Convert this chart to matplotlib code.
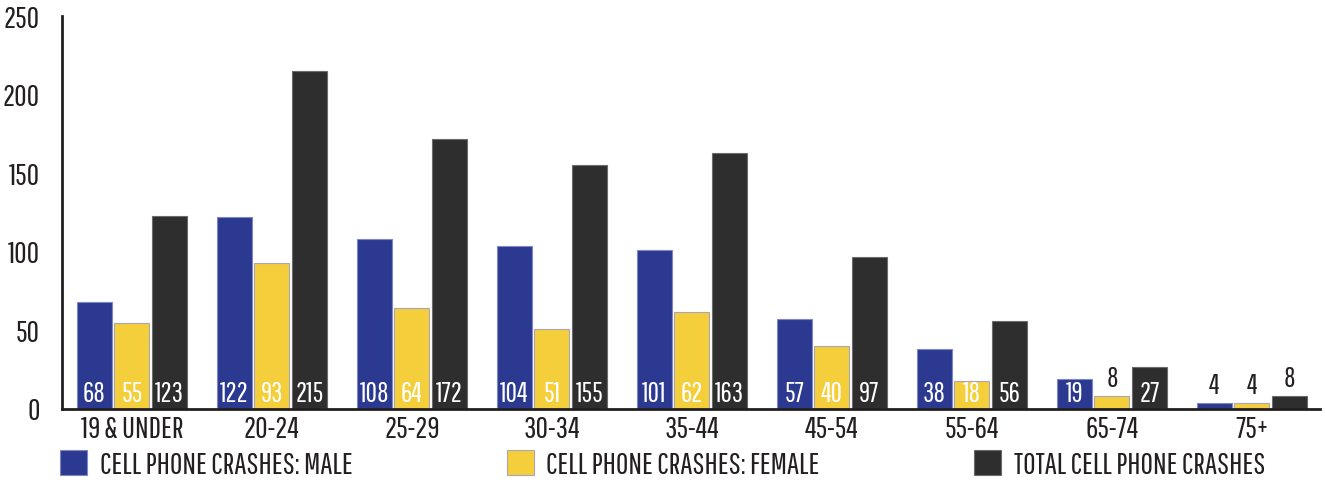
import matplotlib
matplotlib.use("Agg")
import matplotlib.pyplot as plt
from matplotlib.patches import Patch
import numpy as np

categories = ["19 & UNDER", "20-24", "25-29", "30-34", "35-44", "45-54", "55-64", "65-74", "75+"]
male = [68, 122, 108, 104, 101, 57, 38, 19, 4]
female = [55, 93, 64, 51, 62, 40, 18, 8, 4]
total = [123, 215, 172, 155, 163, 97, 56, 27, 8]
series_names = ["CELL PHONE CRASHES: MALE", "CELL PHONE CRASHES: FEMALE", "TOTAL CELL PHONE CRASHES"]
yticks = [0, 50, 100, 150, 200, 250]

colors = ["#2B3990", "#F5CF3B", "#2D2E2D"]
edges = ["#7F86C2", "#A9A4B8", "#6B6B6B"]
text_dark = "#231F20"

plt.rcParams['font.family'] = ['Pathway Gothic One', 'Barlow Condensed', 'DejaVu Sans']

fig = plt.figure(figsize=(13.25, 4.82), dpi=100)
ax = fig.add_axes([62/1325, 73/482, (1320-62)/1325, (409-16)/482])

x = np.arange(len(categories))
w = 0.25
pitch = 0.268
data = [male, female, total]
for i, (vals, c, e) in enumerate(zip(data, colors, edges)):
    xs = x + (i - 1) * pitch
    ax.bar(xs, vals, width=w, color=c, edgecolor=e, linewidth=0.8, zorder=2)
    for xi, v in zip(xs, vals):
        if v >= 15:
            ax.text(xi, 1.5, str(v), ha='center', va='bottom', color='white',
                    fontsize=20, zorder=3)
        else:
            ax.text(xi, v + 2.5, str(v), ha='center', va='bottom', color=text_dark,
                    fontsize=20, zorder=3)

ax.set_xlim(-0.5, 8.486)
ax.set_ylim(0, 250)
ax.set_yticks(yticks)
ax.set_yticklabels([str(t) for t in yticks])
ax.set_xticks(x)
ax.set_xticklabels(categories)
ax.tick_params(axis='both', length=0, labelsize=22, colors=text_dark)
ax.tick_params(axis='y', pad=16)
ax.tick_params(axis='x', pad=4)
for s in ['top', 'right']:
    ax.spines[s].set_visible(False)
for s in ['left', 'bottom']:
    ax.spines[s].set_linewidth(2)
    ax.spines[s].set_color(text_dark)

handles = [Patch(facecolor=c, edgecolor=e, linewidth=0.8) for c, e in zip(colors, edges)]
fig.legend(handles, series_names, loc='center left', bbox_to_anchor=(60/1325, 1 - 465/482),
           ncol=3, frameon=False, fontsize=22, handlelength=0.88, handleheight=0.88,
           handletextpad=0.42, columnspacing=5.05, borderaxespad=0, borderpad=0,
           labelcolor=text_dark)

fig.savefig("out.png", dpi=100)
